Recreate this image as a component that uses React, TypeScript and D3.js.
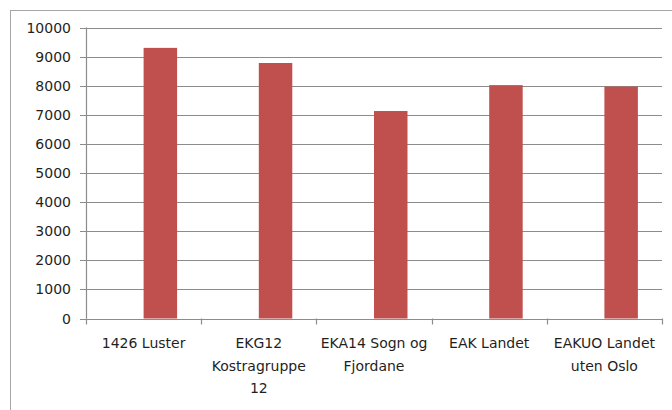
import React from "react";
import { scaleBand, scaleLinear } from "d3";

const categories = [
  "1426 Luster",
  "EKG12\nKostragruppe\n12",
  "EKA14 Sogn og\nFjordane",
  "EAK Landet",
  "EAKUO Landet\nuten Oslo",
];
const values = [9300, 8780, 7130, 8020, 7970];
// excel clustered chart with an empty first series, so bars sit right of centre
const seriesKeys = ["tom", "verdi"];
const yTicks = [0, 1000, 2000, 3000, 4000, 5000, 6000, 7000, 8000, 9000, 10000];

const W = 672;
const H = 410;
const left = 86;
const right = 662;
const top = 27.5;
const bottom = 318.5;
const font = "'DejaVu Sans', sans-serif";

const App = () => {
  const x = scaleBand().domain(categories).range([left, right]);
  const sub = scaleBand()
    .domain(seriesKeys)
    .range([0, x.bandwidth()])
    .paddingInner(0)
    .paddingOuter(0.72);
  const y = scaleLinear().domain([0, 10000]).range([bottom, top]);

  const ticksX = [...categories.map((c) => x(c)), right];

  return (
    <svg width={W} height={H} style={{ position: "absolute", left: 0, top: 0 }}>
      <rect x={0} y={0} width={W} height={H} fill="#fff" />
      <rect x={10.5} y={10.5} width={W + 20} height={H + 20} fill="none" stroke="#a6a6a6" />

      {yTicks.map((t) => (
        <g key={t}>
          <line x1={left - 6} x2={right} y1={Math.round(y(t)) + 0.5} y2={Math.round(y(t)) + 0.5}
            stroke="#8c8c8c" strokeWidth={1.2} />
          <text x={71} y={y(t)} dy="0.36em" textAnchor="end" fontFamily={font}
            fontSize={14} fill="#1f1f1f">{t}</text>
        </g>
      ))}

      <line x1={left + 0.5} x2={left + 0.5} y1={top} y2={bottom} stroke="#8c8c8c" strokeWidth={1.2} />
      {ticksX.map((tx, i) => (
        <line key={i} x1={Math.round(tx) + 0.5} x2={Math.round(tx) + 0.5} y1={bottom} y2={bottom + 6}
          stroke="#8c8c8c" strokeWidth={1.2} />
      ))}

      {categories.map((c, i) => (
        <rect key={c} x={x(c) + sub("verdi")} y={y(values[i])} width={sub.bandwidth()}
          height={bottom - y(values[i])} fill="#c0504d" />
      ))}

      {categories.map((c) => (
        <text key={c} x={x(c) + x.bandwidth() / 2} y={348} textAnchor="middle"
          fontFamily={font} fontSize={14} fill="#1f1f1f">
          {c.split("\n").map((line, j) => (
            <tspan key={j} x={x(c) + x.bandwidth() / 2} dy={j === 0 ? 0 : 22.5}>{line}</tspan>
          ))}
        </text>
      ))}
    </svg>
  );
};

export default App;
